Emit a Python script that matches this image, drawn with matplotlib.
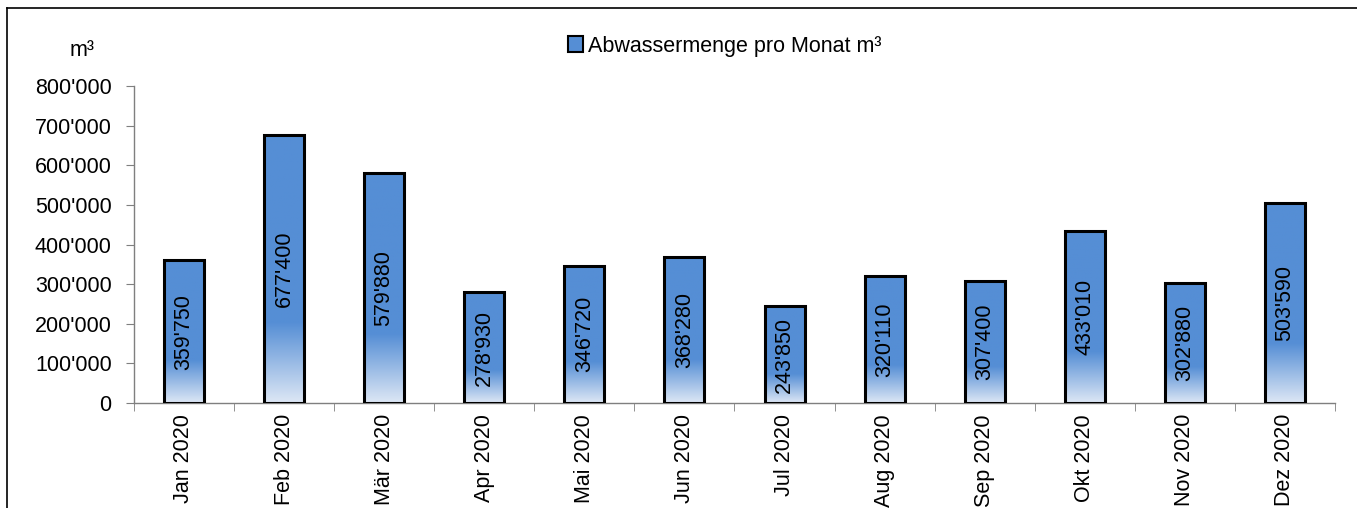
import numpy as np
import matplotlib
matplotlib.use('Agg')
import matplotlib.pyplot as plt
from matplotlib.ticker import FuncFormatter, FixedLocator
from matplotlib.colors import LinearSegmentedColormap
from matplotlib.patches import Rectangle
from matplotlib.lines import Line2D

plt.rcParams['font.family'] = ['Liberation Sans', 'DejaVu Sans']

# Daten
months = ['Jan 2020', 'Feb 2020', 'Mär 2020', 'Apr 2020', 'Mai 2020', 'Jun 2020',
          'Jul 2020', 'Aug 2020', 'Sep 2020', 'Okt 2020', 'Nov 2020', 'Dez 2020']
abwasser = [359750, 677400, 579880, 278930, 346720, 368280,
            243850, 320110, 307400, 433010, 302880, 503590]
y_ticks = [0, 100000, 200000, 300000, 400000, 500000, 600000, 700000, 800000]
legend_label = 'Abwassermenge pro Monat m³'

BLUE = '#558ED5'
LIGHT = '#DDE7F5'
FS = 15.5


def fmt_ch(v, pos=None):
    return f'{int(round(v)):,}'.replace(',', "'")


# Verlauf: unten hell, ab ~30% der Balkenhöhe volles Blau
cmap = LinearSegmentedColormap.from_list('grad', [(0, LIGHT), (0.3, BLUE), (1, BLUE)])
grad = np.linspace(0, 1, 256).reshape(-1, 1)

fig = plt.figure(figsize=(13.57, 5.08), dpi=100)
ax = fig.add_axes([0.0987, 0.2067, 0.8851, 0.624])

x = np.arange(len(months))
width = 0.4
bars = ax.bar(x, abwasser, width, color='none', edgecolor='black',
              linewidth=2.2, zorder=3)
for b, v in zip(bars, abwasser):
    x0 = b.get_x()
    im = ax.imshow(grad, cmap=cmap, aspect='auto', origin='lower',
                   extent=[x0, x0 + width, 0, v], zorder=2)
    clip = Rectangle((x0, 0), width, v, transform=ax.transData)
    im.set_clip_path(clip)
    ax.text(x0 + width / 2, v / 2, fmt_ch(v), rotation=90,
            ha='center', va='center', fontsize=FS, color='black', zorder=4)

ax.set_xlim(-0.5, len(months) - 0.5)
ax.set_ylim(0, 800000)
ax.set_yticks(y_ticks)
ax.yaxis.set_major_formatter(FuncFormatter(fmt_ch))

ax.set_xticks(x)
ax.set_xticklabels(months, rotation=90, fontsize=FS)
ax.xaxis.set_minor_locator(FixedLocator(np.arange(-0.5, len(months), 1.0)))
ax.tick_params(axis='x', which='major', length=0, pad=8)
ax.tick_params(axis='x', which='minor', length=6, direction='out', color='#7f7f7f')
ax.tick_params(axis='y', length=6, direction='out', color='#7f7f7f',
               labelsize=FS, pad=10)

for s in ['top', 'right']:
    ax.spines[s].set_visible(False)
for s in ['left', 'bottom']:
    ax.spines[s].set_color('#7f7f7f')
    ax.spines[s].set_linewidth(1.0)

# m³ über der y-Achse
fig.text(82 / 1357, 1 - 50 / 508, 'm³', ha='center', va='center', fontsize=FS)

# Legende
handle = Rectangle((0, 0), 1, 1, facecolor=BLUE, edgecolor='black', linewidth=1.5)
fig.legend([handle], [legend_label], loc='center', bbox_to_anchor=(0.534, 1 - 46 / 508),
           frameon=False, fontsize=FS, handlelength=0.7, handleheight=0.7,
           handletextpad=0.2, borderaxespad=0)

# Rahmen (oben und links)
fig.add_artist(Line2D([7 / 1357, 7 / 1357], [0, 1 - 8 / 508], color='black',
                      linewidth=1.2, transform=fig.transFigure))
fig.add_artist(Line2D([7 / 1357, 1], [1 - 8 / 508, 1 - 8 / 508], color='black',
                      linewidth=1.2, transform=fig.transFigure))

fig.savefig('out.png', dpi=100)
plt.close(fig)
